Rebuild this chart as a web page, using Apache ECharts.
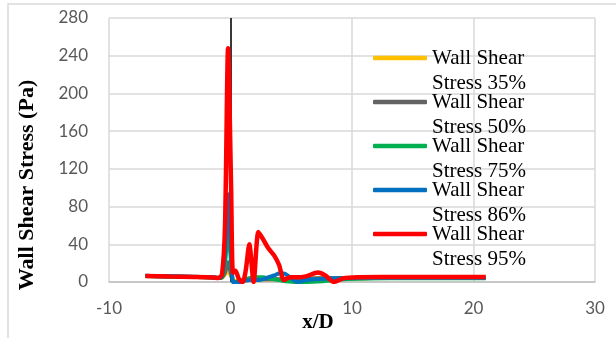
<!DOCTYPE html>
<html>
<head>
<meta charset="utf-8">
<script src="https://cdn.jsdelivr.net/npm/echarts@6/dist/echarts.min.js"></script>
<style>
  html, body { margin: 0; padding: 0; background: #fff; }
  #chart { width: 616px; height: 338px; }
</style>
</head>
<body>
<div id="chart"></div>
<script>
// x/D positions shared by every curve
const xPos = [-7, -5, -3, -1.5, -1, -0.7, -0.45, -0.2, 0.05, 0.2, 0.4, 0.7, 1.0, 1.25, 1.55, 1.9, 2.3, 2.7, 3.1, 3.6, 4.0, 4.4, 4.9, 5.5, 6.2, 7.2, 7.8, 8.5, 9.3, 10.5, 13, 16, 19, 21];

const wss35 = [6.3, 5.8, 5.3, 4.8, 4.2, 4.5, 8, 12, 6, 2, 1, 1, 2, 2.5, 3, 3, 3, 3, 3, 3, 3, 3, 3, 3, 3.5, 4, 4, 4, 4, 4, 4.5, 4.5, 4.5, 4.5];
const wss50 = [6.3, 5.8, 5.3, 4.8, 4.2, 5, 10, 21, 8, 1, 0, 0, 1, 2, 3, 3, 3, 3, 3, 3, 3, 3, 3, 3, 3.5, 4, 4, 4, 4, 4, 4.5, 4.5, 4.5, 4.5];
const wss75 = [6.3, 5.8, 5.3, 4.8, 4.2, 5, 20, 55, 20, 1, 0, 1, 2, 3, 4, 5, 5, 5, 4, 3, 2, 1, 0.5, 0, 0, 0.5, 1, 2, 3, 3.5, 4, 4, 4, 4];
const wss86 = [6.5, 6, 5.5, 5, 4.5, 6, 30, 93, 30, 0, 0, 0, 1, 1.5, 2, 2, 2, 3, 5, 7, 9, 9, 5, 0, 2, 3, 3.5, 4, 4, 4.5, 4.5, 4.5, 4.5, 4.5];
const wss95 = [6.3, 5.8, 5.3, 4.8, 4.2, 8, 60, 248, 100, 10, 12, 3, 0, 12, 40, 0, 53, 45, 36, 28, 18, 2, 5, 5, 6, 10, 7, 0, 4, 5, 5.2, 5.3, 5.3, 5.3];

const seriesNames = ["Wall Shear\nStress 35%", "Wall Shear\nStress 50%", "Wall Shear\nStress 75%", "Wall Shear\nStress 86%", "Wall Shear\nStress 95%"];
const seriesColors = ["#FFC000", "#636363", "#00B050", "#0070C0", "#FF0000"];
const seriesValues = [wss35, wss50, wss75, wss86, wss95];

const chart = echarts.init(document.getElementById("chart"));

const series = seriesValues.map((vals, i) => ({
  name: seriesNames[i],
  type: "line",
  symbol: "none",
  smooth: 0.25,
  data: vals.map((v, j) => [xPos[j], v]),
  lineStyle: { color: seriesColors[i], width: i === 4 ? 4.5 : 4 },
  itemStyle: { color: seriesColors[i] },
  z: 2 + i
}));

// black vertical axis line at x = 0
series[0].markLine = {
  silent: true,
  symbol: "none",
  label: { show: false },
  lineStyle: { color: "#000", width: 1.5, type: "solid" },
  data: [{ xAxis: 0 }]
};

chart.setOption({
  animation: false,
  grid: { left: 109, right: 21, top: 18, bottom: 56 },
  xAxis: {
    type: "value",
    min: -10,
    max: 30,
    interval: 10,
    axisLine: { onZero: false, lineStyle: { color: "#bfbfbf", width: 1.5 } },
    axisTick: { show: false },
    axisLabel: { color: "#595959", fontFamily: "Lato", fontSize: 17, margin: 18 },
    splitLine: { lineStyle: { color: "#d9d9d9", width: 1.5 } }
  },
  yAxis: {
    type: "value",
    min: 0,
    max: 280,
    interval: 40,
    axisLine: { show: false },
    axisTick: { show: false },
    axisLabel: { color: "#595959", fontFamily: "Lato", fontSize: 17, margin: 21 },
    splitLine: { lineStyle: { color: "#d9d9d9", width: 1.5 } }
  },
  legend: {
    orient: "vertical",
    left: 373,
    top: 20.5,
    padding: 0,
    itemGap: -31,
    itemWidth: 54,
    itemHeight: 4.5,
    icon: "roundRect",
    selectedMode: false,
    data: seriesNames,
    // blank first line keeps the icon level with "Wall Shear"
    formatter: name => " \n" + name,
    textStyle: {
      fontFamily: "Liberation Serif",
      fontSize: 21,
      color: "#000",
      lineHeight: 25
    }
  },
  graphic: [
    {
      type: "rect",
      shape: { x: 8, y: 4, width: 640, height: 360 },
      style: { fill: "none", stroke: "#d9d9d9", lineWidth: 1.5 },
      silent: true,
      z: -1
    },
    {
      type: "text",
      x: 27,
      y: 185,
      rotation: Math.PI / 2,
      style: {
        text: "Wall Shear Stress (Pa)",
        fontFamily: "Liberation Serif",
        fontWeight: "bold",
        fontSize: 22,
        fill: "#000",
        align: "center",
        verticalAlign: "middle"
      }
    },
    {
      type: "text",
      x: 318,
      y: 323,
      style: {
        text: "x/D",
        fontFamily: "Liberation Serif",
        fontWeight: "bold",
        fontSize: 21,
        fill: "#000",
        align: "center",
        verticalAlign: "middle"
      }
    }
  ],
  series: series
});
</script>
</body>
</html>
